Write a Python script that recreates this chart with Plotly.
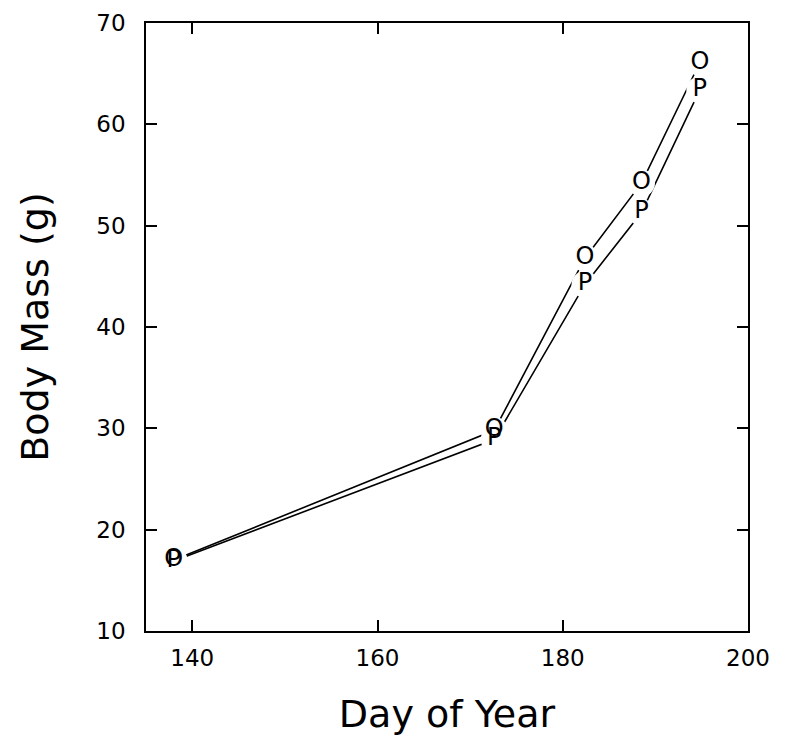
import plotly.graph_objects as go

days = [138, 172.6, 182.4, 188.5, 194.8]
mass_o = [17.0, 29.8, 46.8, 54.2, 66.1]
mass_p = [16.9, 28.9, 44.2, 51.3, 63.4]
series = [(mass_o, "O"), (mass_p, "P")]

fig = go.Figure()
# lines
for y, lab in series:
    fig.add_trace(go.Scatter(x=days, y=y, mode="lines",
                             line=dict(color="black", width=1.6),
                             showlegend=False, hoverinfo="skip"))
# white masks (gaps around symbols)
for y, lab in series:
    fig.add_trace(go.Scatter(x=days, y=y, mode="markers",
                             marker=dict(color="white", size=27, line=dict(width=0)),
                             showlegend=False, cliponaxis=False, hoverinfo="skip"))
# plotting symbols
for y, lab in series:
    fig.add_trace(go.Scatter(x=days, y=y, mode="text",
                             text=[lab] * len(days), textposition="middle center",
                             textfont=dict(family="DejaVu Sans", size=24, color="black"),
                             showlegend=False, cliponaxis=False, name=lab))

axis_common = dict(
    showgrid=False, zeroline=False, showline=True, linecolor="black",
    linewidth=1.6, mirror="ticks", ticks="inside", ticklen=11,
    tickwidth=1.5, tickcolor="black", automargin=False,
    ticklabeloverflow="allow",
    tickfont=dict(family="DejaVu Sans", size=23, color="black"),
)
fig.update_xaxes(range=[135, 200], tickvals=[140, 160, 180, 200],
                 ticklabelstandoff=6,
                 title=dict(text="Day of Year", standoff=30,
                            font=dict(family="DejaVu Sans", size=38, color="black")),
                 **axis_common)
fig.update_yaxes(range=[10, 70], tickvals=[10, 20, 30, 40, 50, 60, 70],
                 ticklabelstandoff=14,
                 title=dict(text="Body Mass (g)", standoff=36,
                            font=dict(family="DejaVu Sans", size=38, color="black")),
                 **axis_common)
fig.update_layout(width=789, height=754, plot_bgcolor="white", paper_bgcolor="white",
                  margin=dict(l=138, r=49, t=15, b=131, autoexpand=False))
fig.write_html("out.html")
